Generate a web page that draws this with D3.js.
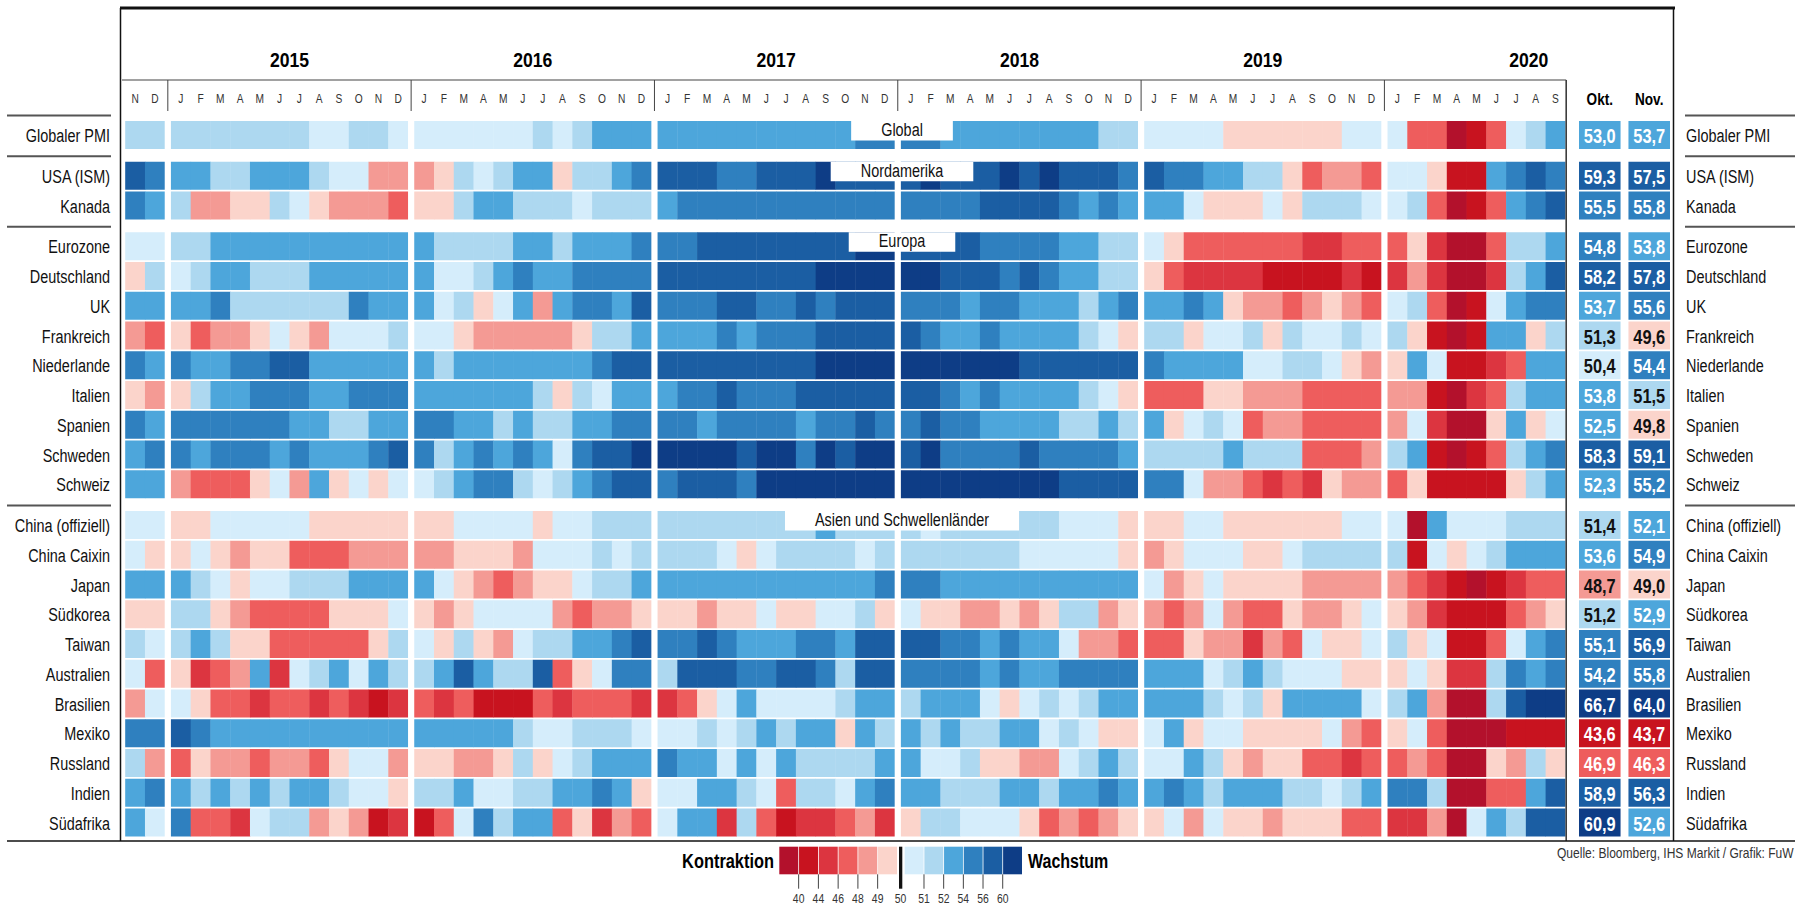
<!DOCTYPE html>
<html>
<head>
<meta charset="utf-8">
<script src="https://cdnjs.cloudflare.com/ajax/libs/d3/7.8.5/d3.min.js"></script>
<style>
  body { margin: 0; background: #fff; overflow: hidden; }
  svg text { font-family: "Liberation Sans", Arial, sans-serif; }
</style>
</head>
<body>
<div id="chart"></div>
<script>
// ---- data (Nov 2014 .. Sep 2020) ----
const years = [2014, 2015, 2016, 2017, 2018, 2019, 2020];
const monthLetters = ['J', 'F', 'M', 'A', 'M', 'J', 'J', 'A', 'S', 'O', 'N', 'D'];
const groupTitles = ['Global', 'Nordamerika', 'Europa', 'Asien und Schwellenländer'];
const countries = ['Globaler PMI', 'USA (ISM)', 'Kanada', 'Eurozone', 'Deutschland', 'UK', 'Frankreich',
  'Niederlande', 'Italien', 'Spanien', 'Schweden', 'Schweiz', 'China (offiziell)', 'China Caixin', 'Japan',
  'Südkorea', 'Taiwan', 'Australien', 'Brasilien', 'Mexiko', 'Russland', 'Indien', 'Südafrika'];
const countryGroup = [0, 1, 1, 2, 2, 2, 2, 2, 2, 2, 2, 2, 3, 3, 3, 3, 3, 3, 3, 3, 3, 3, 3];

const pmiGlobal = [51.5, 51.5,
  51.5, 51.5, 51.5, 51.5, 51.5, 51.5, 51.5, 50.5, 50.5, 51.5, 51.5, 50.5,
  50.5, 50.5, 50.5, 50.5, 50.5, 50.5, 51.5, 50.5, 51.5, 53, 53, 53,
  53, 53, 53, 53, 53, 53, 53, 53, 53, 53, 55, 55,
  55, 55, 53, 53, 53, 53, 53, 53, 53, 53, 51.5, 51.5,
  50.5, 50.5, 50.5, 50.5, 49.5, 49.5, 49.5, 49.5, 49.5, 49.5, 50.5, 50.5,
  50.5, 47, 47, 37, 42, 47, 50.5, 51.5, 53];
const pmiUSA = [58, 55,
  53, 53, 51.5, 51.5, 53, 53, 53, 51.5, 50.5, 50.5, 48.5, 48.5,
  48.5, 49.5, 51.5, 50.5, 51.5, 53, 53, 49.5, 51.5, 51.5, 53, 55,
  58, 58, 58, 55, 55, 58, 58, 58, 61.5, 58, 58, 58,
  58, 61.5, 58, 58, 58, 61.5, 58, 61.5, 58, 58, 58, 55,
  58, 55, 55, 53, 53, 51.5, 51.5, 49.5, 47, 48.5, 48.5, 47,
  50.5, 50.5, 49.5, 42, 42, 53, 55, 58, 55];
const pmiKanada = [55, 53,
  51.5, 48.5, 48.5, 49.5, 49.5, 51.5, 50.5, 49.5, 48.5, 48.5, 48.5, 47,
  49.5, 49.5, 51.5, 53, 53, 51.5, 51.5, 51.5, 50.5, 51.5, 51.5, 51.5,
  53, 55, 55, 55, 55, 55, 55, 55, 55, 55, 55, 55,
  55, 55, 55, 55, 58, 58, 58, 58, 55, 53, 55, 53,
  53, 53, 50.5, 49.5, 49.5, 49.5, 50.5, 49.5, 51.5, 51.5, 51.5, 50.5,
  50.5, 51.5, 47, 37, 42, 47, 53, 55, 58];
const pmiEurozone = [50.5, 50.5,
  51.5, 51.5, 53, 53, 53, 53, 53, 53, 53, 53, 53, 53,
  53, 51.5, 51.5, 51.5, 51.5, 53, 53, 51.5, 53, 53, 53, 55,
  55, 55, 58, 58, 58, 58, 58, 58, 58, 58, 61.5, 61.5,
  58, 58, 58, 58, 55, 55, 55, 55, 53, 53, 51.5, 51.5,
  50.5, 49.5, 47, 47, 47, 47, 47, 47, 45, 45, 47, 47,
  47, 49.5, 45, 37, 37, 47, 51.5, 51.5, 53];
const pmiDeutschland = [49.5, 51.5,
  50.5, 51.5, 53, 53, 51.5, 51.5, 51.5, 53, 53, 53, 53, 53,
  53, 50.5, 50.5, 51.5, 53, 55, 53, 53, 55, 55, 55, 55,
  58, 58, 58, 58, 58, 58, 58, 58, 61.5, 61.5, 61.5, 61.5,
  61.5, 61.5, 58, 58, 58, 55, 58, 55, 53, 53, 51.5, 51.5,
  49.5, 47, 45, 45, 45, 45, 42, 42, 42, 42, 45, 42,
  45, 48.5, 45, 37, 37, 45, 51.5, 53, 58];
const pmiUK = [53, 53,
  53, 53, 55, 51.5, 51.5, 51.5, 51.5, 51.5, 51.5, 55, 53, 53,
  53, 50.5, 51.5, 49.5, 50.5, 53, 48.5, 53, 55, 55, 53, 58,
  55, 55, 55, 58, 58, 55, 55, 58, 55, 58, 58, 58,
  55, 55, 55, 53, 55, 55, 53, 53, 53, 51.5, 53, 55,
  53, 53, 55, 53, 49.5, 48.5, 48.5, 47, 48.5, 49.5, 48.5, 47,
  50.5, 51.5, 47, 37, 42, 50.5, 53, 55, 55];
const pmiFrankreich = [48.5, 47,
  49.5, 47, 48.5, 48.5, 49.5, 50.5, 49.5, 48.5, 50.5, 50.5, 50.5, 51.5,
  50.5, 50.5, 49.5, 48.5, 48.5, 48.5, 48.5, 48.5, 49.5, 51.5, 51.5, 53,
  53, 53, 53, 55, 53, 55, 55, 55, 58, 58, 58, 58,
  58, 55, 53, 53, 55, 53, 53, 53, 53, 51.5, 50.5, 49.5,
  51.5, 51.5, 49.5, 50.5, 50.5, 51.5, 49.5, 51.5, 50.5, 50.5, 51.5, 50.5,
  51.5, 49.5, 42, 37, 42, 53, 53, 49.5, 51.5];
const pmiNiederlande = [55, 53,
  55, 53, 53, 55, 55, 58, 58, 53, 53, 53, 53, 53,
  53, 51.5, 53, 53, 53, 53, 53, 53, 53, 55, 58, 58,
  58, 58, 58, 58, 58, 58, 58, 58, 61.5, 61.5, 61.5, 61.5,
  61.5, 61.5, 61.5, 61.5, 61.5, 61.5, 58, 58, 58, 58, 58, 58,
  55, 53, 53, 53, 53, 50.5, 50.5, 51.5, 51.5, 50.5, 49.5, 48.5,
  49.5, 53, 50.5, 42, 42, 45, 47, 53, 53];
const pmiItalien = [49.5, 48.5,
  49.5, 51.5, 53, 53, 55, 55, 55, 53, 53, 55, 55, 55,
  53, 53, 53, 53, 53, 53, 51.5, 49.5, 51.5, 50.5, 53, 53,
  53, 55, 55, 58, 55, 55, 55, 58, 58, 58, 58, 58,
  58, 58, 55, 53, 55, 53, 53, 53, 53, 51.5, 50.5, 49.5,
  47, 47, 47, 49.5, 49.5, 48.5, 48.5, 48.5, 47, 47, 47, 47,
  48.5, 48.5, 42, 37, 45, 47, 51.5, 53, 53];
const pmiSpanien = [55, 53,
  55, 55, 55, 55, 55, 55, 53, 53, 51.5, 51.5, 53, 53,
  55, 55, 53, 53, 51.5, 53, 51.5, 51.5, 53, 53, 55, 55,
  55, 55, 53, 55, 55, 55, 55, 53, 55, 55, 58, 55,
  55, 58, 55, 55, 53, 53, 53, 53, 51.5, 51.5, 53, 51.5,
  53, 49.5, 50.5, 51.5, 50.5, 47, 48.5, 48.5, 47, 47, 47, 47,
  48.5, 50.5, 45, 37, 37, 49.5, 53, 49.5, 50.5];
const pmiSchweden = [53, 55,
  55, 53, 55, 55, 55, 53, 55, 53, 53, 53, 55, 58,
  55, 51.5, 53, 55, 53, 55, 53, 50.5, 55, 58, 58, 61.5,
  61.5, 61.5, 61.5, 61.5, 58, 61.5, 61.5, 55, 61.5, 58, 61.5, 61.5,
  58, 61.5, 55, 55, 55, 55, 58, 55, 55, 55, 55, 53,
  51.5, 51.5, 51.5, 51.5, 53, 51.5, 51.5, 51.5, 47, 47, 47, 48.5,
  51.5, 53, 42, 37, 42, 47, 51.5, 53, 55];
const pmiSchweiz = [53, 53,
  48.5, 47, 47, 47, 49.5, 50.5, 48.5, 53, 49.5, 50.5, 49.5, 50.5,
  50.5, 51.5, 53, 55, 55, 51.5, 50.5, 51.5, 53, 55, 58, 58,
  55, 58, 58, 58, 55, 61.5, 61.5, 61.5, 61.5, 61.5, 61.5, 61.5,
  61.5, 61.5, 61.5, 61.5, 61.5, 61.5, 61.5, 61.5, 58, 58, 58, 58,
  55, 55, 50.5, 48.5, 48.5, 47, 45, 47, 45, 49.5, 48.5, 48.5,
  47, 49.5, 42, 42, 42, 42, 49.5, 51.5, 53];
const pmiChinaOffiziell = [50.5, 50.5,
  49.5, 49.5, 50.5, 50.5, 50.5, 50.5, 50.5, 49.5, 49.5, 49.5, 49.5, 49.5,
  49.5, 49.5, 50.5, 50.5, 50.5, 50.5, 49.5, 50.5, 50.5, 51.5, 51.5, 51.5,
  51.5, 51.5, 51.5, 51.5, 51.5, 51.5, 51.5, 51.5, 53, 51.5, 51.5, 51.5,
  51.5, 50.5, 51.5, 51.5, 51.5, 51.5, 51.5, 51.5, 50.5, 50.5, 50.5, 49.5,
  49.5, 49.5, 50.5, 50.5, 49.5, 49.5, 49.5, 49.5, 49.5, 49.5, 50.5, 50.5,
  50.5, 37, 53, 50.5, 50.5, 50.5, 51.5, 51.5, 51.5];
const pmiChinaCaixin = [50.5, 49.5,
  49.5, 50.5, 49.5, 48.5, 49.5, 49.5, 47, 47, 47, 48.5, 48.5, 48.5,
  48.5, 48.5, 49.5, 49.5, 49.5, 48.5, 50.5, 50.5, 50.5, 51.5, 50.5, 51.5,
  51.5, 51.5, 51.5, 50.5, 49.5, 50.5, 51.5, 51.5, 51.5, 51.5, 50.5, 51.5,
  51.5, 51.5, 51.5, 51.5, 51.5, 51.5, 50.5, 50.5, 50.5, 50.5, 50.5, 49.5,
  48.5, 49.5, 50.5, 50.5, 50.5, 49.5, 49.5, 50.5, 51.5, 51.5, 51.5, 51.5,
  51.5, 42, 50.5, 49.5, 50.5, 51.5, 53, 53, 53];
const pmiJapan = [53, 53,
  53, 51.5, 50.5, 49.5, 50.5, 50.5, 51.5, 51.5, 51.5, 53, 53, 53,
  53, 50.5, 49.5, 48.5, 47, 48.5, 49.5, 49.5, 50.5, 51.5, 51.5, 53,
  53, 53, 53, 53, 53, 53, 53, 53, 53, 53, 53, 55,
  55, 55, 53, 53, 53, 53, 53, 53, 53, 53, 53, 53,
  50.5, 48.5, 49.5, 50.5, 49.5, 49.5, 49.5, 49.5, 48.5, 48.5, 48.5, 48.5,
  48.5, 47, 45, 42, 37, 42, 45, 47, 47];
const pmiSuedkorea = [49.5, 49.5,
  51.5, 51.5, 49.5, 48.5, 47, 47, 47, 47, 49.5, 49.5, 49.5, 50.5,
  49.5, 48.5, 49.5, 50.5, 50.5, 50.5, 50.5, 48.5, 47, 48.5, 48.5, 49.5,
  49.5, 49.5, 48.5, 49.5, 49.5, 50.5, 49.5, 49.5, 50.5, 50.5, 51.5, 49.5,
  50.5, 49.5, 49.5, 48.5, 48.5, 49.5, 48.5, 49.5, 51.5, 51.5, 48.5, 49.5,
  48.5, 47, 48.5, 50.5, 48.5, 47, 47, 49.5, 48.5, 48.5, 49.5, 50.5,
  49.5, 48.5, 45, 42, 42, 42, 47, 48.5, 49.5];
const pmiTaiwan = [51.5, 50.5,
  51.5, 53, 51.5, 49.5, 49.5, 47, 47, 47, 47, 47, 49.5, 51.5,
  50.5, 49.5, 51.5, 49.5, 48.5, 50.5, 51.5, 51.5, 53, 53, 55, 58,
  55, 55, 58, 55, 53, 53, 53, 55, 55, 53, 58, 58,
  58, 58, 55, 55, 53, 55, 53, 53, 50.5, 48.5, 48.5, 47,
  47, 47, 49.5, 48.5, 48.5, 45, 48.5, 47, 50.5, 49.5, 49.5, 50.5,
  51.5, 49.5, 50.5, 42, 42, 47, 50.5, 53, 55];
const pmiAustralien = [50.5, 47,
  49.5, 45, 47, 48.5, 53, 45, 50.5, 51.5, 53, 50.5, 53, 51.5,
  51.5, 53, 58, 53, 51.5, 51.5, 58, 47, 49.5, 50.5, 55, 55,
  51.5, 58, 58, 58, 55, 55, 58, 58, 55, 51.5, 58, 58,
  55, 55, 55, 55, 53, 55, 53, 53, 55, 55, 55, 55,
  53, 53, 53, 50.5, 51.5, 53, 51.5, 50.5, 50.5, 50.5, 49.5, 49.5,
  49.5, 50.5, 49.5, 45, 45, 51.5, 55, 53, 55];
const pmiBrasilien = [48.5, 50.5,
  50.5, 49.5, 47, 47, 45, 47, 47, 45, 47, 45, 42, 45,
  47, 45, 47, 42, 42, 42, 47, 45, 47, 47, 47, 45,
  45, 47, 49.5, 50.5, 53, 50.5, 50.5, 50.5, 50.5, 51.5, 53, 53,
  51.5, 53, 53, 53, 50.5, 49.5, 50.5, 51.5, 50.5, 51.5, 53, 53,
  53, 53, 53, 51.5, 50.5, 51.5, 49.5, 53, 53, 53, 53, 50.5,
  51.5, 53, 48.5, 37, 37, 51.5, 58, 61.5, 61.5];
const pmiMexiko = [55, 55,
  58, 55, 53, 53, 53, 53, 53, 53, 53, 53, 53, 53,
  53, 53, 53, 53, 53, 51.5, 50.5, 50.5, 51.5, 51.5, 51.5, 50.5,
  50.5, 50.5, 51.5, 50.5, 51.5, 53, 51.5, 53, 53, 49.5, 53, 51.5,
  53, 51.5, 53, 51.5, 51.5, 53, 53, 50.5, 51.5, 50.5, 49.5, 49.5,
  50.5, 53, 49.5, 50.5, 50.5, 49.5, 49.5, 49.5, 49.5, 50.5, 48.5, 47,
  49.5, 50.5, 47, 37, 37, 37, 42, 42, 42];
const pmiRussland = [51.5, 48.5,
  47, 49.5, 48.5, 48.5, 47, 48.5, 48.5, 47, 49.5, 50.5, 50.5, 48.5,
  49.5, 49.5, 48.5, 48.5, 49.5, 51.5, 49.5, 50.5, 51.5, 53, 53, 53,
  55, 53, 53, 50.5, 53, 50.5, 53, 51.5, 51.5, 51.5, 51.5, 53,
  53, 50.5, 50.5, 51.5, 49.5, 49.5, 48.5, 48.5, 50.5, 51.5, 53, 51.5,
  50.5, 50.5, 53, 51.5, 49.5, 48.5, 49.5, 49.5, 47, 47, 45, 47,
  47, 48.5, 47, 37, 37, 49.5, 48.5, 51.5, 49.5];
const pmiIndien = [53, 55,
  53, 51.5, 53, 51.5, 53, 51.5, 53, 53, 51.5, 50.5, 50.5, 49.5,
  51.5, 51.5, 53, 50.5, 50.5, 51.5, 51.5, 53, 53, 55, 53, 49.5,
  50.5, 50.5, 53, 53, 51.5, 50.5, 47, 51.5, 51.5, 50.5, 53, 55,
  53, 53, 51.5, 51.5, 51.5, 53, 53, 51.5, 53, 53, 55, 53,
  53, 55, 53, 51.5, 53, 53, 53, 51.5, 51.5, 50.5, 51.5, 53,
  55, 55, 51.5, 37, 37, 47, 47, 53, 58];
const pmiSuedafrika = [53, 50.5,
  55, 47, 47, 45, 50.5, 51.5, 51.5, 48.5, 49.5, 48.5, 42, 45,
  42, 47, 50.5, 55, 51.5, 53, 53, 47, 49.5, 45, 48.5, 47,
  50.5, 53, 53, 45, 51.5, 47, 42, 45, 45, 47, 48.5, 45,
  49.5, 51.5, 51.5, 50.5, 50.5, 50.5, 49.5, 47, 48.5, 47, 48.5, 49.5,
  49.5, 50.5, 48.5, 50.5, 49.5, 49.5, 48.5, 49.5, 49.5, 49.5, 47, 47,
  45, 45, 48.5, 37, 50.5, 53, 51.5, 58, 58];

const oktValues = [53.0, 59.3, 55.5, 54.8, 58.2, 53.7, 51.3, 50.4, 53.8, 52.5, 58.3, 52.3,
  51.4, 53.6, 48.7, 51.2, 55.1, 54.2, 66.7, 43.6, 46.9, 58.9, 60.9];
const novValues = [53.7, 57.5, 55.8, 53.8, 57.8, 55.6, 49.6, 54.4, 51.5, 49.8, 59.1, 55.2,
  52.1, 54.9, 49.0, 52.9, 56.9, 55.8, 64.0, 43.7, 46.3, 56.3, 52.6];

const colorSteps = [40, 44, 46, 48, 49, 50, 51, 52, 54, 56, 60];
const colorRange = ['#b3112c', '#c8131f', '#dc3540', '#ee5d5d', '#f49a94', '#fbd4cb',
  '#d5edfb', '#add8f0', '#4da6db', '#2f80bf', '#1b5ea3', '#0e3d86'];

const rows = [pmiGlobal, pmiUSA, pmiKanada, pmiEurozone, pmiDeutschland, pmiUK, pmiFrankreich,
  pmiNiederlande, pmiItalien, pmiSpanien, pmiSchweden, pmiSchweiz, pmiChinaOffiziell, pmiChinaCaixin,
  pmiJapan, pmiSuedkorea, pmiTaiwan, pmiAustralien, pmiBrasilien, pmiMexiko, pmiRussland, pmiIndien,
  pmiSuedafrika].map(function(values, i){
    return {name: countries[i], group: countryGroup[i], values: values, okt: oktValues[i], nov: novValues[i]};
  });

// ---- chart ----
const width = 1795, height = 905;
const svg = d3.select('#chart').append('svg')
  .attr('width', width).attr('height', height);

// the print font is a condensed one, so texts get squeezed sideways
function squeeze(sel, fx, fy, sx){
  sel.attr('transform', function(d, i){
    var px = typeof fx === 'function' ? fx(d, i) : fx;
    var py = typeof fy === 'function' ? fy(d, i) : fy;
    return 'translate(' + px + ',' + py + ') scale(' + sx + ',1)';
  });
  return sel;
}

var columns = [];
years.forEach(function(year, yi){
  var from = year === years[0] ? 10 : 0;
  var to = year === years[years.length - 1] ? 8 : 11;
  for (var m = from; m <= to; m++) columns.push({year: year, yi: yi, m: m});
});

var yearGap = 6.2;
var x = d3.scaleLinear().domain([0, columns.length]).range([125.2, 125.2 + columns.length * 19.76]);
var cellW = x(1) - x(0);
function colX(i){ return x(i) + columns[i].yi * yearGap; }

var groupGap = 11;
var y = d3.scaleLinear().domain([0, rows.length]).range([121, 121 + rows.length * 29.75]);
var cellH = 28;
function rowY(i){ return y(i) + rows[i].group * groupGap; }

var color = d3.scaleThreshold().domain(colorSteps).range(colorRange);
var fmt = d3.formatLocale({decimal: ',', thousands: '.', grouping: [3], currency: ['', '']}).format('.1f');

var heatRight = colX(columns.length - 1) + cellW;

// cells
var rowG = svg.append('g').selectAll('g')
  .data(rows).join('g')
  .attr('transform', function(d, i){ return 'translate(0,' + rowY(i) + ')'; });

rowG.selectAll('rect')
  .data(function(d){ return d.values; })
  .join('rect')
  .attr('x', function(v, j){ return colX(j); })
  .attr('y', 0)
  .attr('width', function(v, j){
    var last = j === columns.length - 1 || columns[j + 1].yi !== columns[j].yi;
    return last ? cellW : cellW + 0.4;
  })
  .attr('height', cellH)
  .attr('fill', function(v){ return color(v); });

// Okt./Nov. columns
var latest = d3.scaleBand().domain(['Okt.', 'Nov.']).range([1579, 1670]).paddingInner(0.16);
['Okt.', 'Nov.'].forEach(function(key){
  var field = key === 'Okt.' ? 'okt' : 'nov';
  var cx = latest(key) + latest.bandwidth() / 2;
  rowG.append('rect')
    .attr('x', latest(key)).attr('y', 0)
    .attr('width', latest.bandwidth()).attr('height', cellH)
    .attr('fill', function(d){ return color(d[field]); });
  squeeze(rowG.append('text'), cx, cellH / 2 + 1, 0.82)
    .attr('text-anchor', 'middle')
    .attr('dominant-baseline', 'central')
    .style('font-size', '20px').style('font-weight', 'bold')
    .attr('fill', function(d){ return d[field] >= 48 && d[field] < 52 ? '#111' : '#fff'; })
    .text(function(d){ return fmt(d[field]); });
  squeeze(svg.append('text'), cx, 99, 0.8)
    .attr('text-anchor', 'middle')
    .attr('dominant-baseline', 'central')
    .style('font-size', '17px').style('font-weight', 'bold')
    .text(key);
});

// row labels, both sides
squeeze(rowG.append('text'), 110, cellH / 2 + 1, 0.76)
  .attr('text-anchor', 'end').attr('dominant-baseline', 'central')
  .style('font-size', '19px').attr('fill', '#111')
  .text(function(d){ return d.name; });
squeeze(rowG.append('text'), 1686, cellH / 2 + 1, 0.76)
  .attr('dominant-baseline', 'central')
  .style('font-size', '19px').attr('fill', '#111')
  .text(function(d){ return d.name; });

// group separators
var groupStarts = groupTitles.map(function(t, g){ return countryGroup.indexOf(g); });
groupStarts.forEach(function(r){
  var yy = rowY(r) - 5.5;
  svg.append('line').attr('x1', 7).attr('x2', 111).attr('y1', yy).attr('y2', yy)
    .attr('stroke', '#555').attr('stroke-width', 2);
  svg.append('line').attr('x1', 1685).attr('x2', 1795).attr('y1', yy).attr('y2', yy)
    .attr('stroke', '#555').attr('stroke-width', 2);
});

// group title boxes
groupStarts.forEach(function(r, g){
  var top = rowY(r);
  var box = svg.append('g');
  var rect = box.append('rect').attr('fill', '#fff');
  var t = squeeze(box.append('text'), 902, top + 15, 0.76)
    .attr('text-anchor', 'middle')
    .style('font-size', '19px').attr('fill', '#111')
    .text(groupTitles[g]);
  var w = t.node().getComputedTextLength() * 0.76 + 60;
  rect.attr('x', 902 - w / 2).attr('y', top).attr('width', w).attr('height', 19.5);
});

// frame lines
var frame = svg.append('g').attr('stroke', '#111');
frame.append('line').attr('x1', 120).attr('x2', 1675).attr('y1', 8).attr('y2', 8).attr('stroke-width', 3);
frame.append('line').attr('x1', 120.5).attr('x2', 120.5).attr('y1', 8).attr('y2', 841).attr('stroke-width', 1.5);
frame.append('line').attr('x1', 1673.5).attr('x2', 1673.5).attr('y1', 8).attr('y2', 841).attr('stroke-width', 1.5);
frame.append('line').attr('x1', heatRight + 0.8).attr('x2', heatRight + 0.8).attr('y1', 80).attr('y2', 841).attr('stroke-width', 1.3);
frame.append('line').attr('x1', 122).attr('x2', heatRight + 0.8).attr('y1', 80).attr('y2', 80).attr('stroke', '#444').attr('stroke-width', 1.2);
frame.append('line').attr('x1', 7).attr('x2', 1795).attr('y1', 841).attr('y2', 841).attr('stroke-width', 1.5);

// year separators in the month row
years.slice(1).forEach(function(year){
  var first = columns.findIndex(function(c){ return c.year === year; });
  var sx = colX(first) - yearGap / 2;
  frame.append('line').attr('x1', sx).attr('x2', sx).attr('y1', 80).attr('y2', 111)
    .attr('stroke', '#444').attr('stroke-width', 1);
});

// year labels
years.slice(1).forEach(function(year){
  var idx = columns.map(function(c, i){ return c.year === year ? i : -1; }).filter(function(i){ return i >= 0; });
  var x0 = colX(idx[0]);
  var x1 = year === 2020 ? latest.range()[1] : colX(idx[idx.length - 1]) + cellW;
  squeeze(svg.append('text'), (x0 + x1) / 2, 60, 0.88)
    .attr('text-anchor', 'middle').attr('dominant-baseline', 'central')
    .style('font-size', '20px').style('font-weight', 'bold')
    .text(year);
});

// month letters
squeeze(svg.append('g').selectAll('text')
  .data(columns).join('text'), function(c, i){ return colX(i) + cellW / 2; }, 99, 0.85)
  .attr('text-anchor', 'middle').attr('dominant-baseline', 'central')
  .style('font-size', '12px').attr('fill', '#333')
  .text(function(c){ return monthLetters[c.m]; });

// legend
var reds = d3.scaleBand().domain(d3.range(6)).range([779.3, 897]).paddingInner(0.04);
var blues = d3.scaleBand().domain(d3.range(6)).range([904.7, 1022]).paddingInner(0.04);
var legend = svg.append('g');
legend.selectAll('rect.red').data(colorRange.slice(0, 6)).join('rect')
  .attr('class', 'red')
  .attr('x', function(c, i){ return reds(i); }).attr('y', 846.7)
  .attr('width', reds.bandwidth()).attr('height', 27.6).attr('fill', function(c){ return c; });
legend.selectAll('rect.blue').data(colorRange.slice(6)).join('rect')
  .attr('class', 'blue')
  .attr('x', function(c, i){ return blues(i); }).attr('y', 846.7)
  .attr('width', blues.bandwidth()).attr('height', 27.6).attr('fill', function(c){ return c; });
legend.append('rect').attr('x', 899).attr('y', 846.7).attr('width', 3.3).attr('height', 42).attr('fill', '#111');

var tickX = colorSteps.map(function(v, i){
  if (i < 5) return reds(i + 1) - reds.step() * 0.02;
  if (i === 5) return 900.6;
  return blues(i - 5) - blues.step() * 0.02;
});
legend.selectAll('line').data(colorSteps).join('line')
  .attr('x1', function(v, i){ return tickX[i]; }).attr('x2', function(v, i){ return tickX[i]; })
  .attr('y1', 874.3).attr('y2', function(v, i){ return i === 5 ? 874.3 : 888.7; })
  .attr('stroke', '#444').attr('stroke-width', 1);
squeeze(legend.selectAll('text.tick').data(colorSteps).join('text'),
    function(v, i){ return tickX[i]; }, 898, 0.8)
  .attr('class', 'tick')
  .attr('text-anchor', 'middle').attr('dominant-baseline', 'central')
  .style('font-size', '13px').attr('fill', '#333')
  .text(function(v){ return v; });
squeeze(legend.append('text'), 774, 861, 0.82)
  .attr('text-anchor', 'end').attr('dominant-baseline', 'central')
  .style('font-size', '20px').style('font-weight', 'bold').text('Kontraktion');
squeeze(legend.append('text'), 1028, 861, 0.8)
  .attr('dominant-baseline', 'central')
  .style('font-size', '20px').style('font-weight', 'bold').text('Wachstum');

squeeze(svg.append('text'), 1557, 853, 0.86)
  .attr('dominant-baseline', 'central')
  .style('font-size', '14px').attr('fill', '#333')
  .text('Quelle: Bloomberg, IHS Markit / Grafik: FuW');
</script>
</body>
</html>
